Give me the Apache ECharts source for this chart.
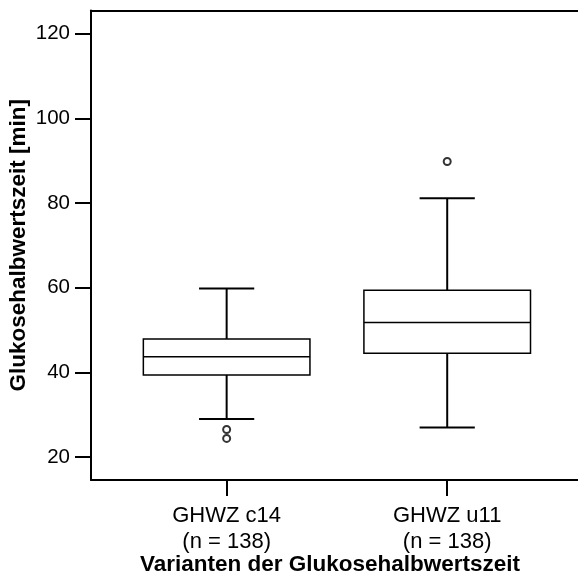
<!DOCTYPE html>
<html>
<head>
<meta charset="utf-8">
<script src="https://cdn.jsdelivr.net/npm/echarts@6/dist/echarts.min.js"></script>
<style>
  html, body { margin: 0; padding: 0; background: #fff; }
  #chart { width: 578px; height: 581px; }
</style>
</head>
<body>
<div id="chart"></div>
<script>
// Group labels and sample sizes
const categories = ['GHWZ c14', 'GHWZ u11'];
const sampleSizes = [138, 138];
// Box statistics per group: [lower whisker, Q1, median, Q3, upper whisker]
const boxStats = [
  [29.0, 39.4, 43.7, 47.9, 59.8],
  [27.0, 44.5, 51.8, 59.4, 81.1]
];
// Outliers: [group position, value]
const outliers = [
  [1, 26.5],
  [1, 24.4],
  [2, 89.8]
];
// Y axis tick values
const yTicks = [20, 40, 60, 80, 100, 120];

const FONT = 'Liberation Sans, Arial, Helvetica, sans-serif';

const boxData = boxStats.map((s, i) => [i + 1].concat(s));

const chart = echarts.init(document.getElementById('chart'), null, { renderer: 'canvas' });

chart.setOption({
  backgroundColor: '#ffffff',
  animation: false,
  grid: { left: 91, top: 10.5, right: 0, bottom: 101, containLabel: false, outerBoundsMode: 'none' },
  xAxis: [
    {
      type: 'value',
      min: 0.385,
      max: 2.593,
      position: 'bottom',
      splitLine: { show: false },
      axisLine: { show: true, onZero: false, lineStyle: { color: '#000', width: 2 } },
      axisTick: { show: true, length: 16, lineStyle: { color: '#000', width: 2 }, customValues: [1, 2] },
      axisLabel: {
        show: true,
        customValues: [1, 2],
        margin: 22.5,
        color: '#000',
        fontFamily: FONT,
        fontSize: 22,
        lineHeight: 26,
        formatter: v => {
          const i = Math.round(v) - 1;
          return categories[i] + '\n(n = ' + sampleSizes[i] + ')';
        }
      }
    },
    {
      type: 'value',
      min: 0.385,
      max: 2.593,
      position: 'top',
      splitLine: { show: false },
      axisLine: { show: true, onZero: false, lineStyle: { color: '#000', width: 2 } },
      axisTick: { show: false },
      axisLabel: { show: false }
    }
  ],
  yAxis: {
    type: 'value',
    min: 14.57,
    max: 125.48,
    name: 'Glukosehalbwertszeit [min]',
    nameLocation: 'middle',
    nameGap: 61,
    nameRotate: 90,
    nameMoveOverlap: false,
    nameTextStyle: { color: '#000', fontFamily: FONT, fontSize: 22.5, fontWeight: 'bold' },
    splitLine: { show: false },
    axisLine: { show: true, onZero: false, lineStyle: { color: '#000', width: 2 } },
    axisTick: { show: true, length: 16, lineStyle: { color: '#000', width: 2 }, customValues: yTicks },
    axisLabel: { show: true, customValues: yTicks, margin: 21, color: '#000', fontFamily: FONT, fontSize: 20.5 }
  },
  graphic: [
    {
      type: 'text',
      x: 330,
      y: 565,
      style: {
        text: 'Varianten der Glukosehalbwertszeit',
        fill: '#000',
        font: 'bold 22.5px ' + FONT,
        textAlign: 'center',
        textVerticalAlign: 'middle'
      }
    }
  ],
  series: [
    {
      type: 'custom',
      xAxisIndex: 0,
      data: boxData,
      encode: { x: 0, y: [1, 2, 3, 4, 5] },
      renderItem: (params, api) => {
        const x = api.value(0);
        const pMin = api.coord([x, api.value(1)]);
        const pQ1 = api.coord([x, api.value(2)]);
        const pMed = api.coord([x, api.value(3)]);
        const pQ3 = api.coord([x, api.value(4)]);
        const pMax = api.coord([x, api.value(5)]);
        const cx = pMed[0];
        const halfBox = 83.3;
        const halfCap = 27.6;
        const whisker = { stroke: '#000', lineWidth: 2 };
        const boxLine = { stroke: '#000', lineWidth: 1.5 };
        return {
          type: 'group',
          children: [
            { type: 'line', shape: { x1: cx, y1: pMax[1], x2: cx, y2: pQ3[1] }, style: whisker },
            { type: 'line', shape: { x1: cx, y1: pQ1[1], x2: cx, y2: pMin[1] }, style: whisker },
            { type: 'line', shape: { x1: cx - halfCap, y1: pMax[1], x2: cx + halfCap, y2: pMax[1] }, style: whisker },
            { type: 'line', shape: { x1: cx - halfCap, y1: pMin[1], x2: cx + halfCap, y2: pMin[1] }, style: whisker },
            {
              type: 'rect',
              shape: { x: cx - halfBox, y: pQ3[1], width: halfBox * 2, height: pQ1[1] - pQ3[1] },
              style: { fill: '#fff', stroke: '#000', lineWidth: 1.5 }
            },
            { type: 'line', shape: { x1: cx - halfBox, y1: pMed[1], x2: cx + halfBox, y2: pMed[1] }, style: boxLine }
          ]
        };
      }
    },
    {
      type: 'scatter',
      xAxisIndex: 0,
      data: outliers,
      symbol: 'emptyCircle',
      symbolSize: 7,
      itemStyle: { color: '#000', borderColor: '#000', borderWidth: 1.5 }
    }
  ]
});
</script>
</body>
</html>
